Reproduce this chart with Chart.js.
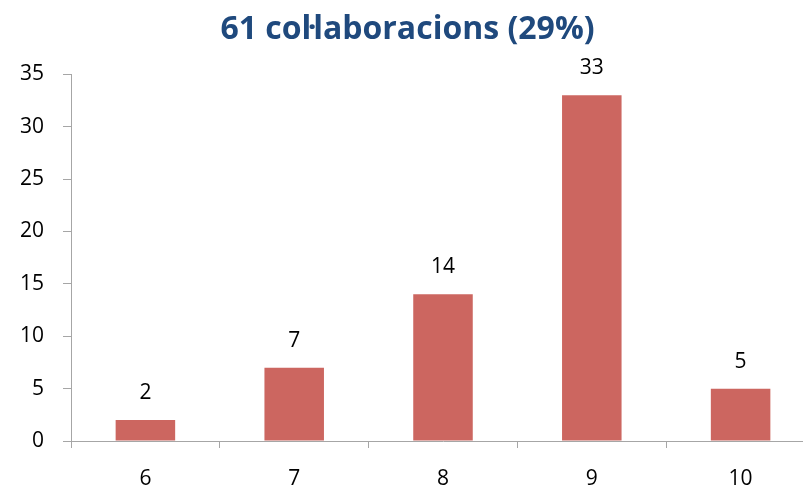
<!DOCTYPE html>
<html lang="ca">
<head>
    <meta charset="UTF-8">
    <title>61 col·laboracions</title>
    <script src="https://cdn.jsdelivr.net/npm/chart.js"></script>
    <style>
        html, body { margin: 0; padding: 0; overflow: hidden; background: #fff; }
        #wrap { width: 815px; height: 486px; }
    </style>
</head>
<body>
    <div id="wrap">
        <canvas id="grafic" width="815" height="486"></canvas>
    </div>

    <script>
        // Dades del gràfic
        const notes = ['6', '7', '8', '9', '10'];
        const collaboracions = [2, 7, 14, 33, 5];
        const titol = '61 col·laboracions (29%)';

        const colorEix = '#a6a6a6';
        const lletra = "'Open Sans', 'Liberation Sans', sans-serif";

        // Etiquetes de valor damunt de cada barra
        const etiquetesBarres = {
            id: 'etiquetesBarres',
            afterDatasetsDraw(chart) {
                const ctx = chart.ctx;
                const meta = chart.getDatasetMeta(0);
                ctx.save();
                ctx.font = '21px ' + lletra;
                ctx.fillStyle = '#000';
                ctx.textAlign = 'center';
                ctx.textBaseline = 'middle';
                meta.data.forEach((barra, i) => {
                    ctx.fillText(collaboracions[i], barra.x, barra.y - 27);
                });
                ctx.restore();
            }
        };

        new Chart(document.getElementById('grafic').getContext('2d'), {
            type: 'bar',
            data: {
                labels: notes,
                datasets: [{
                    data: collaboracions,
                    backgroundColor: '#cc6660',
                    barPercentage: 0.4,
                    categoryPercentage: 1
                }]
            },
            options: {
                responsive: false,
                animation: false,
                layout: { padding: 0 },
                plugins: {
                    legend: { display: false },
                    tooltip: { enabled: false },
                    title: {
                        display: true,
                        text: titol,
                        color: '#1f497d',
                        font: { family: lletra, size: 32, weight: 'bold' },
                        padding: { top: 11, bottom: 25 }
                    }
                },
                scales: {
                    x: {
                        grid: { drawOnChartArea: false, drawTicks: true, tickLength: 7, color: colorEix },
                        border: { color: colorEix },
                        ticks: { color: '#000', font: { family: lletra, size: 21 }, padding: 18 },
                        afterFit(scale) { scale.height = 45; }
                    },
                    y: {
                        min: 0,
                        max: 35,
                        grid: { drawOnChartArea: false, drawTicks: true, tickLength: 8, color: colorEix },
                        border: { color: colorEix },
                        ticks: { stepSize: 5, color: '#000', font: { family: lletra, size: 21 }, padding: 19 },
                        afterFit(scale) { scale.width = 71; }
                    }
                }
            },
            plugins: [etiquetesBarres]
        });
    </script>
</body>
</html>
